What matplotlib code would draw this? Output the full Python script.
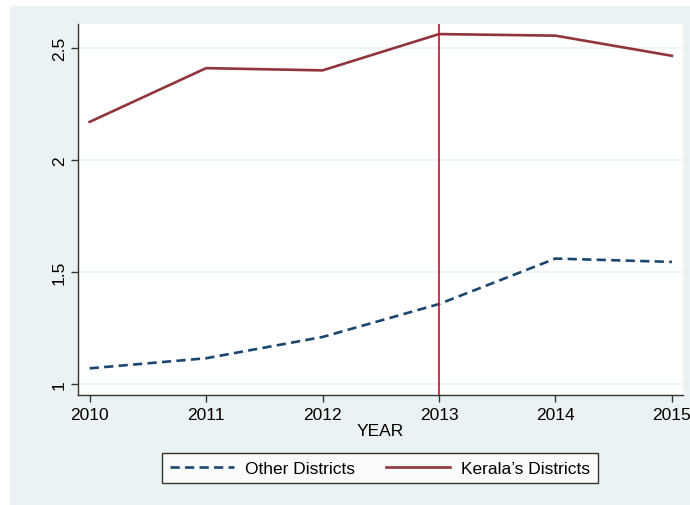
import matplotlib.pyplot as plt
from matplotlib.patches import Rectangle

# yearly averages by district group
years = [2010, 2011, 2012, 2013, 2014, 2015]
other_districts = [1.07, 1.115, 1.21, 1.357, 1.56, 1.545]
kerala_districts = [2.17, 2.41, 2.40, 2.562, 2.555, 2.465]
event_year = 2013
y_ticks = [1, 1.5, 2, 2.5]
y_tick_labels = ["1", "1.5", "2", "2.5"]

plt.rcParams['font.family'] = ['Liberation Sans', 'DejaVu Sans']
fs = 12.5

W, H = 690, 506
fig = plt.figure(figsize=(W / 100, H / 100), dpi=100)
fig.patch.set_facecolor('white')

# light stata-style outer panel
fig.patches.append(Rectangle((10 / W, 0), 1 - 10 / W, 1 - 7 / H,
                             transform=fig.transFigure, facecolor='#EAF2F3',
                             edgecolor='none', zorder=-5))

ax = fig.add_axes([78 / W, 1 - 396 / H, (683 - 78) / W, (396 - 25) / H])
ax.set_facecolor('white')

ax.plot(years, other_districts, color='#1A476F', lw=1.9, ls=(0, (3.5, 2.0)),
        label='Other Districts', zorder=3)
ax.plot(years, kerala_districts, color='#90353B', lw=1.9,
        label="Kerala\u2019s Districts", zorder=3)
ax.axvline(event_year, color='#C8102E', lw=1.2, zorder=4)

ax.set_xlim(2009.9, 2015.095)
ax.set_ylim(0.951, 2.607)
ax.set_xticks(years)
ax.set_yticks(y_ticks)
ax.set_yticklabels(y_tick_labels, rotation=90, va='center')
ax.tick_params(labelsize=fs, length=5, width=1, color='#333333', direction='out')
ax.tick_params(axis='y', pad=3)
ax.grid(axis='y', color='#EAF2F3', lw=1.2, zorder=1)
ax.set_axisbelow(True)

for side in ['top', 'right']:
    ax.spines[side].set_visible(False)
for side in ['left', 'bottom']:
    ax.spines[side].set_color('#333333')
    ax.spines[side].set_linewidth(1.0)

ax.set_xlabel('YEAR', fontsize=fs, labelpad=1)

leg = fig.legend(loc='center', bbox_to_anchor=(380 / W, 1 - 469 / H), ncol=2,
                 fontsize=fs, frameon=True, fancybox=False, handlelength=3.7,
                 columnspacing=1.8, borderpad=0.45, handletextpad=0.6,
                 borderaxespad=0)
leg.get_frame().set_edgecolor('black')
leg.get_frame().set_linewidth(1.0)
leg.get_frame().set_facecolor('white')

fig.savefig('out.png', dpi=100)
